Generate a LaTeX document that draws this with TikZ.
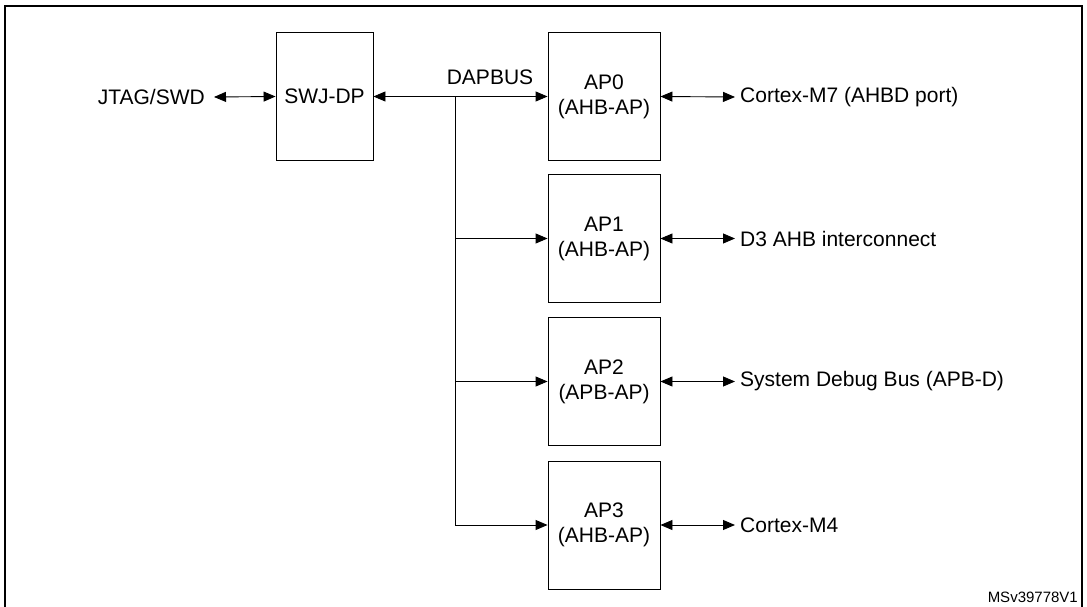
\documentclass[tikz,border=0pt]{standalone}
\usepackage{fontspec}
\setmainfont{Liberation Sans}
\usetikzlibrary{arrows.meta}
\begin{document}
\begin{tikzpicture}[x=1pt,y=-1pt,
  blk/.style={draw,line width=0.9pt,minimum width=112pt,minimum height=128pt,align=center,font=\fontsize{21}{25}\selectfont},
  lbl/.style={font=\fontsize{21}{25}\selectfont,inner sep=0pt},
  ar/.style={line width=0.9pt,-{Triangle[length=12pt,width=10pt]}},
  bar/.style={line width=0.9pt,{Triangle[length=12pt,width=10pt]}-{Triangle[length=12pt,width=10pt]}}]
\useasboundingbox (0,0) rectangle (1087,607);
\draw[line width=1.5pt] (5,620) -- (5,6) -- (1082,6) -- (1082,620);
\node[blk,minimum width=97pt] (swj) at (324.5,96.5) {SWJ-DP};
\node[blk] (ap0) at (604,96.5) {AP0\\(AHB-AP)};
\node[blk] (ap1) at (604,238.5) {AP1\\(AHB-AP)};
\node[blk] (ap2) at (604,381.5) {AP2\\(APB-AP)};
\node[blk] (ap3) at (604,525) {AP3\\(AHB-AP)};
\node[lbl,anchor=east] (jtag) at (205,97) {JTAG/SWD};
\node[lbl] (dap) at (490,77) {DAPBUS};
\node[lbl,anchor=west] (r0) at (740,97) {Cortex-M7 (AHBD port)};
\node[lbl,anchor=west] (r1) at (740,238.5) {D3 AHB interconnect};
\node[lbl,anchor=west] (r2) at (740,381.5) {System Debug Bus (APB-D)};
\node[lbl,anchor=west] (r3) at (740,525) {Cortex-M4};
\node[lbl,anchor=south east,font=\fontsize{15}{18}\selectfont] (ms) at (1078,603) {MSv39778V1};
\draw[bar] ([xshift=9pt]jtag.east) -- (swj.west);
\draw[bar] (swj.east) -- (ap0.west);
\coordinate (t) at (455,96.5);
\coordinate (b) at (455,525);
\draw[line width=0.9pt] (t) -- (b);
\draw[ar] (455,238.5) -- (ap1.west);
\draw[ar] (455,381.5) -- (ap2.west);
\draw[ar] (b) -- (ap3.west);
\foreach \i in {0,1,2,3} \draw[bar] (ap\i.east) -- ([xshift=-5pt]r\i.west);
\end{tikzpicture}
\end{document}
